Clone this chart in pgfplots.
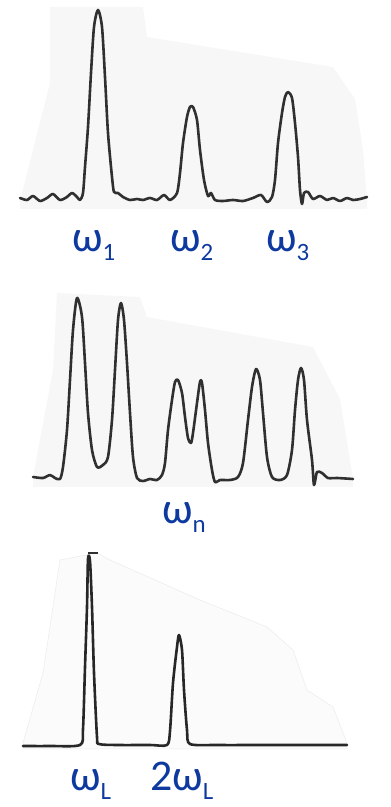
\documentclass[border=0pt]{standalone}
\usepackage{pgfplots}
\pgfplotsset{compat=1.18}
\usepackage{fontspec}
\setmainfont{Carlito}
\definecolor{lblue}{RGB}{14,58,160}
\definecolor{trace}{RGB}{48,48,48}
\definecolor{paper}{RGB}{247,247,247}
% omega with a lowered subscript
\newcommand{\wsub}[1]{ω\raisebox{-9bp}{\fontsize{25}{25}\selectfont #1}}
\newcommand{\lab}[1]{{\fontsize{44}{44}\selectfont\color{lblue}#1}}
\pgfplotsset{
  panel/.style={scale only axis, width=391bp, xmin=0, xmax=391,
    hide axis, clip=false, anchor=south west},
  spec/.style={trace, line width=2.6bp, smooth, tension=0.45,
    line join=round, line cap=round, mark=none},
  sheet/.style={fill=paper, draw=none, mark=none},
}
\begin{document}
\begin{tikzpicture}
\useasboundingbox (0,0) rectangle (391bp,807bp);

% ---- three separated lines
\begin{axis}[panel, at={(0,537bp)}, height=270bp, ymin=-71, ymax=199]
\addplot[sheet] coordinates {(20,-10)(20,-2)(50,116)(50,192)(143,192)(147,162)
  (333,132)(355,100)(363,50)(367,-2)(367,-10)} --cycle;
\addplot[spec] coordinates {
(20,1)(27,-1)(33,3)(40,-2)(47,1)(53,5)(60,-1)(67,2)(72,6)(77,2)(80,-1)
(83,6)(85,32)(88,72)(91,126)(94,172)(98,189)(102,172)(105,122)(108,66)(112,22)
(114,7)(118,6)(123,2)(130,-1)(137,0)(143,-1)(150,1)(157,-1)(164,4)(170,-1)
(177,6)(180,26)(183,56)(187,82)(190,92)(193,92)(197,79)(200,49)(204,19)(208,3)
(211,6)(215,-1)(223,-2)(233,-1)(243,-2)(253,1)(261,4)(267,-3)(272,2)
(275,19)(278,56)(282,86)(285,102)(288,107)(292,101)(295,76)(298,42)(300,9)
(302,-5)(304,6)(308,7)(313,0)(320,3)(327,-1)(333,1)(340,-2)(347,1)(353,-1)
(360,0)(367,2)};
\node[anchor=base west, inner sep=0] at (axis cs:72,-53) {\lab{\wsub{1}}};
\node[anchor=base west, inner sep=0] at (axis cs:170,-53) {\lab{\wsub{2}}};
\node[anchor=base west, inner sep=0] at (axis cs:266,-53) {\lab{\wsub{3}}};
\end{axis}

% ---- pairs of lines
\begin{axis}[panel, at={(0,267bp)}, height=270bp, ymin=-61, ymax=209]
\addplot[sheet] coordinates {(33,-8)(33,2)(53,109)(57,186)(140,182)(147,162)
  (313,132)(340,80)(353,0)(353,-8)} --cycle;
\addplot[spec] coordinates {
(33,2)(43,1)(50,4)(55,1)(60,0)(63,12)(67,49)(70,99)(73,149)(77,181)(82,162)
(85,116)(88,66)(92,29)(97,12)(103,14)(108,22)(112,59)(115,109)(118,159)(121,176)
(124,159)(127,116)(130,66)(133,22)(137,1)(143,-2)(150,0)(157,-1)(162,4)(165,16)
(168,49)(172,79)(175,97)(178,99)(182,86)(185,62)(188,41)(191,36)(193,46)(197,76)
(200,97)(202,96)(205,69)(208,36)(212,9)(215,-3)(220,-1)(230,-1)(238,2)(243,16)
(248,59)(252,92)(256,110)(260,99)(263,66)(267,22)(272,2)(280,-1)(287,4)(292,29)
(295,69)(298,99)(301,111)(304,99)(307,59)(312,19)(314,-6)(317,7)(322,6)(328,1)
(337,1)(353,0)};
\node[anchor=base west, inner sep=0] at (axis cs:162,-45) {\lab{\wsub{n}}};
\end{axis}

% ---- fundamental and second harmonic
\begin{axis}[panel, at={(0,0)}, height=267bp, ymin=-62, ymax=205]
\addplot[fill=black!1.5, draw=black!8, line width=0.5bp, mark=none] coordinates {
  (23,-4)(23,2)(43,72)(60,185)(97,192)(110,185)(200,145)(267,118)(293,95)
  (307,55)(333,38)(347,2)(347,-4)} --cycle;
\addplot[trace, line width=1.2bp, mark=none] coordinates {(88,192)(98,192)};
\addplot[spec, trace!80!black] coordinates {
(23,-1)(50,-1)(80,0)(83,16)(85,78)(87,138)(88,186)(90,184)(92,138)(94,72)(97,8)
(99,1)(117,0)(150,0)(167,0)(170,14)(173,62)(177,98)(179,110)(182,95)(184,55)
(187,15)(190,1)(217,0)(267,0)(347,0)};
\node[anchor=base west, inner sep=0] at (axis cs:70,-45) {\lab{\wsub{L}}};
\node[anchor=base west, inner sep=0] at (axis cs:150,-45) {\lab{2\wsub{L}}};
\end{axis}
\end{tikzpicture}
\end{document}
